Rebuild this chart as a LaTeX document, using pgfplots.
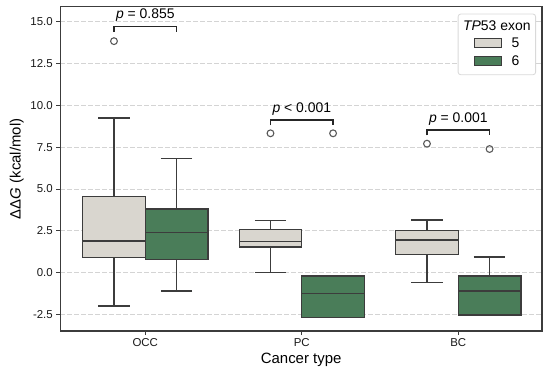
\documentclass[border=0pt]{standalone}
\usepackage{fontspec}
\setmainfont{Liberation Sans}
\usepackage{pgfplots}
\pgfplotsset{compat=1.18}
\usepgfplotslibrary{statistics}
\definecolor{cfive}{HTML}{D9D6CF}
\definecolor{csix}{HTML}{4A7D59}
\definecolor{edge}{HTML}{3C3C3C}
\definecolor{gridc}{HTML}{D4D4D4}
\newcommand\patch[1]{{\setlength\fboxsep{0pt}\setlength\fboxrule{1bp}\raisebox{0.6bp}{\fcolorbox{edge}{#1}{\rule{0pt}{8bp}\hspace{25.5bp}}}}}
\begin{document}
\begin{tikzpicture}
\begin{axis}[
  scale only axis, width=481.7bp, height=324.3bp,
  xmin=-0.543, xmax=2.535, ymin=-3.49, ymax=15.9,
  xtick={0,1,2}, xticklabels={OCC,PC,BC},
  ytick={-2.5,0,2.5,5,7.5,10,12.5,15},
  yticklabel style={/pgf/number format/.cd, fixed, fixed zerofill, precision=1},
  /pgf/number format/assume math mode=true,
  tick label style={font=\fontsize{11.5}{13}\selectfont, color=black!90},
  label style={font=\fontsize{15}{18}\selectfont},
  xlabel={Cancer type}, ylabel={ΔΔ\textit{G} (kcal/mol)},
  tick align=outside, major tick length=4bp, tick style={edge, line width=1bp},
  xtick pos=lower, ytick pos=left,
  axis line style={edge, line width=1.2bp},
  ymajorgrids, grid style={gridc, dash pattern=on 4.5bp off 2.5bp, line width=0.7bp},
  boxplot/draw direction=y,
  boxplot/whisker extend=0.2, boxplot/box extend=0.4,
  every axis plot/.append style={line width=1.3bp},
  bx/.style={draw=edge, mark=o, mark size=3.4bp, mark options={draw=edge!85, fill=white, line width=1.1bp, solid}},
]
% OCC
\addplot[bx, fill=cfive, boxplot prepared={draw position=-0.2, lower whisker=-1.99, lower quartile=0.92, median=1.89, upper quartile=4.54, upper whisker=9.24}] coordinates {(0,13.84)};
\addplot[bx, fill=csix, boxplot prepared={draw position=0.2, lower whisker=-1.10, lower quartile=0.78, median=2.39, upper quartile=3.80, upper whisker=6.81}] coordinates {};
% PC
\addplot[bx, fill=cfive, boxplot prepared={draw position=0.8, lower whisker=0.0, lower quartile=1.53, median=1.85, upper quartile=2.59, upper whisker=3.13}] coordinates {(0,8.33)};
\addplot[bx, fill=csix, boxplot prepared={draw position=1.2, lower whisker=-2.69, lower quartile=-2.69, median=-1.24, upper quartile=-0.20, upper whisker=-0.20}] coordinates {(0,8.33)};
% BC
\addplot[bx, fill=cfive, boxplot prepared={draw position=1.8, lower whisker=-0.60, lower quartile=1.08, median=1.95, upper quartile=2.53, upper whisker=3.15}] coordinates {(0,7.71)};
\addplot[bx, fill=csix, boxplot prepared={draw position=2.2, lower whisker=-2.53, lower quartile=-2.53, median=-1.10, upper quartile=-0.20, upper whisker=0.94}] coordinates {(0,7.39)};
% brackets
\addplot[black!85, line width=1.4bp, mark=none] coordinates {(-0.2,14.38) (-0.2,14.71) (0.2,14.71) (0.2,14.38)};
\addplot[black!85, line width=1.4bp, mark=none] coordinates {(0.8,8.80) (0.8,9.12) (1.2,9.12) (1.2,8.80)};
\addplot[black!85, line width=1.4bp, mark=none] coordinates {(1.8,8.20) (1.8,8.53) (2.2,8.53) (2.2,8.20)};
\node[anchor=base, inner sep=0pt, font=\fontsize{14}{16}\selectfont] at (axis cs:0,15.17) {\textit{p} = 0.855};
\node[anchor=base, inner sep=0pt, font=\fontsize{14}{16}\selectfont] at (axis cs:1,9.58) {\textit{p} < 0.001};
\node[anchor=base, inner sep=0pt, font=\fontsize{14}{16}\selectfont] at (axis cs:2,8.97) {\textit{p} = 0.001};
% legend
\node[anchor=north east, draw=black!15, line width=0.8bp, rounded corners=2.5bp, fill=white, inner xsep=5bp, inner ysep=4bp, font=\fontsize{14}{16}\selectfont] at ([shift={(-6bp,-7bp)}]rel axis cs:1,1) {%
  \renewcommand\arraystretch{1.1}%
  \begin{tabular}{@{}c@{}}
  \textit{TP}53 exon\\
  \begin{tabular}{@{}c@{\hspace{10bp}}l@{}}
  \patch{cfive} & 5\\
  \patch{csix} & 6
  \end{tabular}
  \end{tabular}};
\end{axis}
\pgfresetboundingbox
\path[use as bounding box] ([shift={(-60.3bp,-41bp)}]current axis.south west) rectangle ([shift={(8bp,6.7bp)}]current axis.north east);
\end{tikzpicture}
\end{document}
